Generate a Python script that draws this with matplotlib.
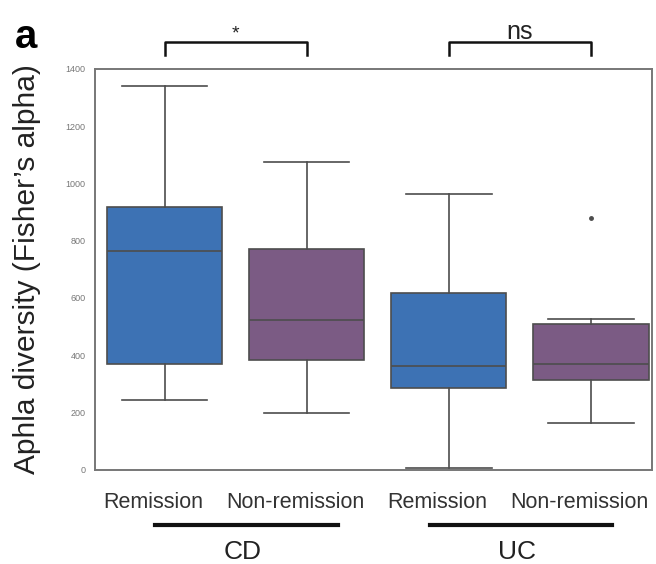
import matplotlib
matplotlib.use("Agg")
import matplotlib.pyplot as plt

plt.rcParams['font.family'] = ['Liberation Sans', 'DejaVu Sans']

categories = ["Remission", "Non-remission", "Remission", "Non-remission"]
groups = ["CD", "UC"]
whislo = [245, 200, 8, 165]
q1 = [368, 382, 287, 315]
med = [763, 522, 364, 371]
q3 = [917, 770, 616, 508]
whishi = [1340, 1075, 963, 525]
fliers = [[], [], [], [879]]
yticks = [0, 200, 400, 600, 800, 1000, 1200, 1400]
sig_labels = ["*", "ns"]

colors = ["#3d72b4", "#7b5b84", "#3d72b4", "#7b5b84"]
edge = "#4d4d4d"

# label/line placement (layout only, as in the reference figure)
label_shift = -0.08
group_span = [(-0.07, 1.22), (1.87, 3.15)]

fig = plt.figure(figsize=(6.56, 5.64), dpi=100)
ax = fig.add_axes([0.145, 0.167, 0.849, 0.711])

stats = []
for i in range(len(categories)):
    stats.append(dict(med=med[i], q1=q1[i], q3=q3[i], whislo=whislo[i],
                      whishi=whishi[i], fliers=fliers[i], label=categories[i]))

bp = ax.bxp(stats, positions=range(len(categories)), widths=0.81,
            patch_artist=True, showfliers=True,
            boxprops=dict(edgecolor=edge, linewidth=1.2),
            medianprops=dict(color=edge, linewidth=1.2),
            whiskerprops=dict(color=edge, linewidth=1.2),
            capprops=dict(color=edge, linewidth=1.2),
            flierprops=dict(marker="o", markersize=2.5, markerfacecolor=edge,
                            markeredgecolor=edge))
for patch, c in zip(bp["boxes"], colors):
    patch.set_facecolor(c)
for cap in bp["caps"]:
    x = cap.get_xdata()
    m = (x[0] + x[1]) / 2
    cap.set_xdata([m - 0.3, m + 0.3])

ax.set_xlim(-0.49, 3.43)
ax.set_ylim(0, 1400)
ax.set_yticks(yticks)
ax.set_yticklabels([str(v) for v in yticks], fontsize=6.5, color="#777777")
ax.tick_params(axis="y", length=0, pad=7)
ax.tick_params(axis="x", length=0, pad=16)
ax.set_xticks([i + label_shift for i in range(len(categories))])
ax.set_xticklabels(categories, fontsize=15.5, color="#333333")
for s in ax.spines.values():
    s.set_color("#777777")
    s.set_linewidth(1.4)

ax.set_ylabel("Aphla diversity (Fisher\u2019s alpha)", fontsize=21.5, color="#222222")
ax.yaxis.set_label_coords(-0.097, 0.5)

# group lines and labels below axis
for (x0, x1), g in zip(group_span, groups):
    ax.plot([x0, x1], [-193, -193], color="#111111", lw=3, clip_on=False)
    ax.text((x0 + x1) / 2 - 0.03, -288, g, ha="center", va="center",
            fontsize=19, color="#222222")

# significance brackets
for gi, lab in enumerate(sig_labels):
    xa, xb = 2 * gi, 2 * gi + 1
    ax.plot([xa, xa, xb, xb], [1447, 1492, 1492, 1447], color="#111111", lw=1.8,
            clip_on=False)
    if lab == "*":
        ax.text((xa + xb) / 2, 1505, lab, ha="center", va="baseline", fontsize=14,
                color="#222222")
    else:
        ax.text((xa + xb) / 2, 1505, lab, ha="center", va="baseline", fontsize=18,
                color="#222222")

fig.text(0.022, 0.935, "a", fontsize=29, fontweight="bold", va="center", ha="left")

fig.savefig("out.png", dpi=100)
